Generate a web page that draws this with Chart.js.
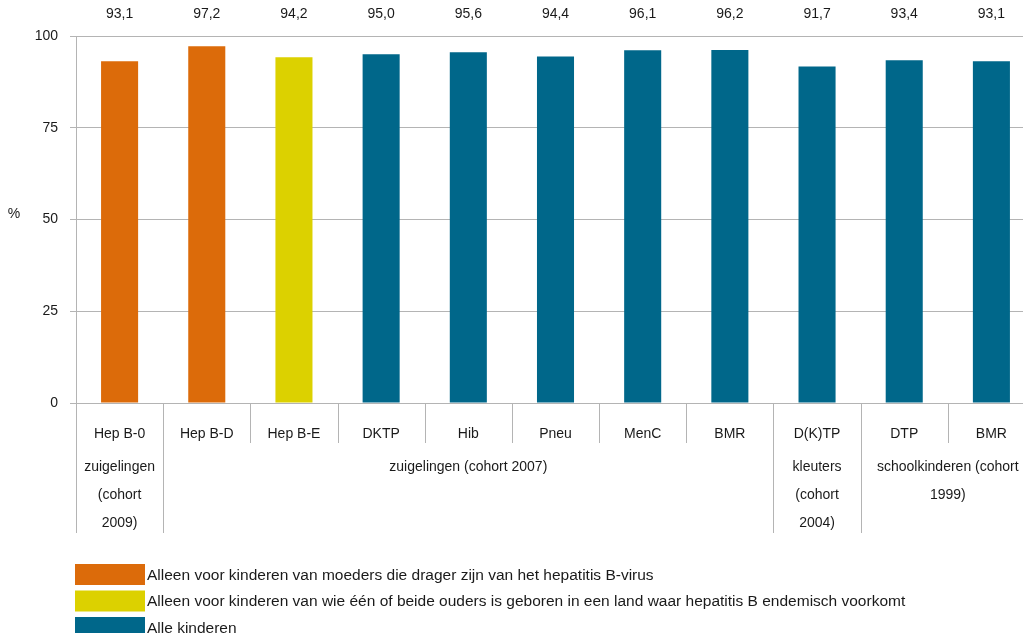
<!DOCTYPE html>
<html>
<head>
<meta charset="utf-8">
<script src="https://cdn.jsdelivr.net/npm/chart.js@4"></script>
<style>
  html, body { margin: 0; padding: 0; background: #fff; overflow: hidden; }
  #wrap { width: 1035px; height: 633px; }
</style>
</head>
<body>
<div id="wrap"><canvas id="chart" width="1035" height="633"></canvas></div>
<script>
// data
const categories = ['Hep B-0', 'Hep B-D', 'Hep B-E', 'DKTP', 'Hib', 'Pneu', 'MenC', 'BMR', 'D(K)TP', 'DTP', 'BMR'];
const coverage = [93.1, 97.2, 94.2, 95.0, 95.6, 94.4, 96.1, 96.2, 91.7, 93.4, 93.1];
const barGroup = [0, 0, 1, 2, 2, 2, 2, 2, 2, 2, 2];
const legendLabels = [
  'Alleen voor kinderen van moeders die drager zijn van het hepatitis B-virus',
  'Alleen voor kinderen van wie één of beide ouders is geboren in een land waar hepatitis B endemisch voorkomt',
  'Alle kinderen'
];
// cohort groups: first/last category index and text lines
const cohortFrom = [0, 1, 8, 9];
const cohortTo = [0, 7, 8, 10];
const cohortLines = [
  ['zuigelingen', '(cohort', '2009)'],
  ['zuigelingen (cohort 2007)'],
  ['kleuters', '(cohort', '2004)'],
  ['schoolkinderen (cohort', '1999)']
];
const yTicks = [0, 25, 50, 75, 100];

const colors = ['#dc6b0a', '#dcd100', '#00678a'];
const FAMILY = '"Liberation Sans", Arial, sans-serif';
const FONT = '14px ' + FAMILY;
const LEGEND_FONT = '15.5px ' + FAMILY;
const TXT = '#1a1a1a';
const LINE = '#b4b4b4';

const extras = {
  id: 'extras',
  afterDraw(chart) {
    const ctx = chart.ctx;
    const x = chart.scales.x;
    const area = chart.chartArea;
    const half = (x.getPixelForValue(1) - x.getPixelForValue(0)) / 2;
    ctx.save();
    ctx.font = FONT;
    ctx.fillStyle = TXT;
    ctx.textAlign = 'center';
    ctx.textBaseline = 'middle';

    // value labels on top
    coverage.forEach((v, i) => {
      ctx.fillText(v.toFixed(1).replace('.', ','), x.getPixelForValue(i), 14);
    });

    // y axis unit
    ctx.fillText('%', 14, 214);

    // separators below the axis
    ctx.strokeStyle = LINE;
    ctx.lineWidth = 1;
    for (let i = 0; i <= categories.length; i++) {
      const px = Math.round(x.getPixelForValue(i) - half) + 0.5;
      const long = cohortFrom.includes(i);
      ctx.beginPath();
      ctx.moveTo(px, area.bottom);
      ctx.lineTo(px, long ? 533 : 443);
      ctx.stroke();
    }

    // cohort labels
    cohortLines.forEach((lines, g) => {
      const cx = (x.getPixelForValue(cohortFrom[g]) + x.getPixelForValue(cohortTo[g])) / 2;
      lines.forEach((t, k) => {
        ctx.fillText(t, cx, 467 + k * 28);
      });
    });

    // legend
    ctx.font = LEGEND_FONT;
    ctx.textAlign = 'left';
    legendLabels.forEach((t, k) => {
      const top = 564 + k * 26.5;
      ctx.fillStyle = colors[k];
      ctx.fillRect(75, top, 70, 21);
      ctx.fillStyle = TXT;
      ctx.fillText(t, 147, top + 11.5);
    });
    ctx.restore();
  }
};

new Chart(document.getElementById('chart'), {
  type: 'bar',
  data: {
    labels: categories,
    datasets: [{
      data: coverage,
      backgroundColor: barGroup.map(g => colors[g]),
      barPercentage: 0.85,
      categoryPercentage: 0.5
    }]
  },
  options: {
    responsive: false,
    animation: false,
    devicePixelRatio: 1,
    layout: { padding: { top: 36, left: 0, right: 0, bottom: 0 } },
    plugins: {
      legend: { display: false },
      tooltip: { enabled: false }
    },
    scales: {
      x: {
        grid: { display: false, drawTicks: false },
        border: { display: false },
        ticks: {
          padding: 23,
          color: TXT,
          font: { family: FAMILY, size: 14 },
          maxRotation: 0,
          autoSkip: false
        },
        afterFit(scale) { scale.height = 230; }
      },
      y: {
        min: 0,
        max: 100,
        afterBuildTicks(scale) { scale.ticks = yTicks.map(v => ({ value: v })); },
        grid: { color: LINE, tickLength: 6, tickColor: LINE },
        border: { display: true, color: LINE },
        ticks: {
          padding: 12,
          color: TXT,
          font: { family: FAMILY, size: 14 }
        },
        afterFit(scale) { scale.width = 76; }
      }
    }
  },
  plugins: [extras]
});
</script>
</body>
</html>
